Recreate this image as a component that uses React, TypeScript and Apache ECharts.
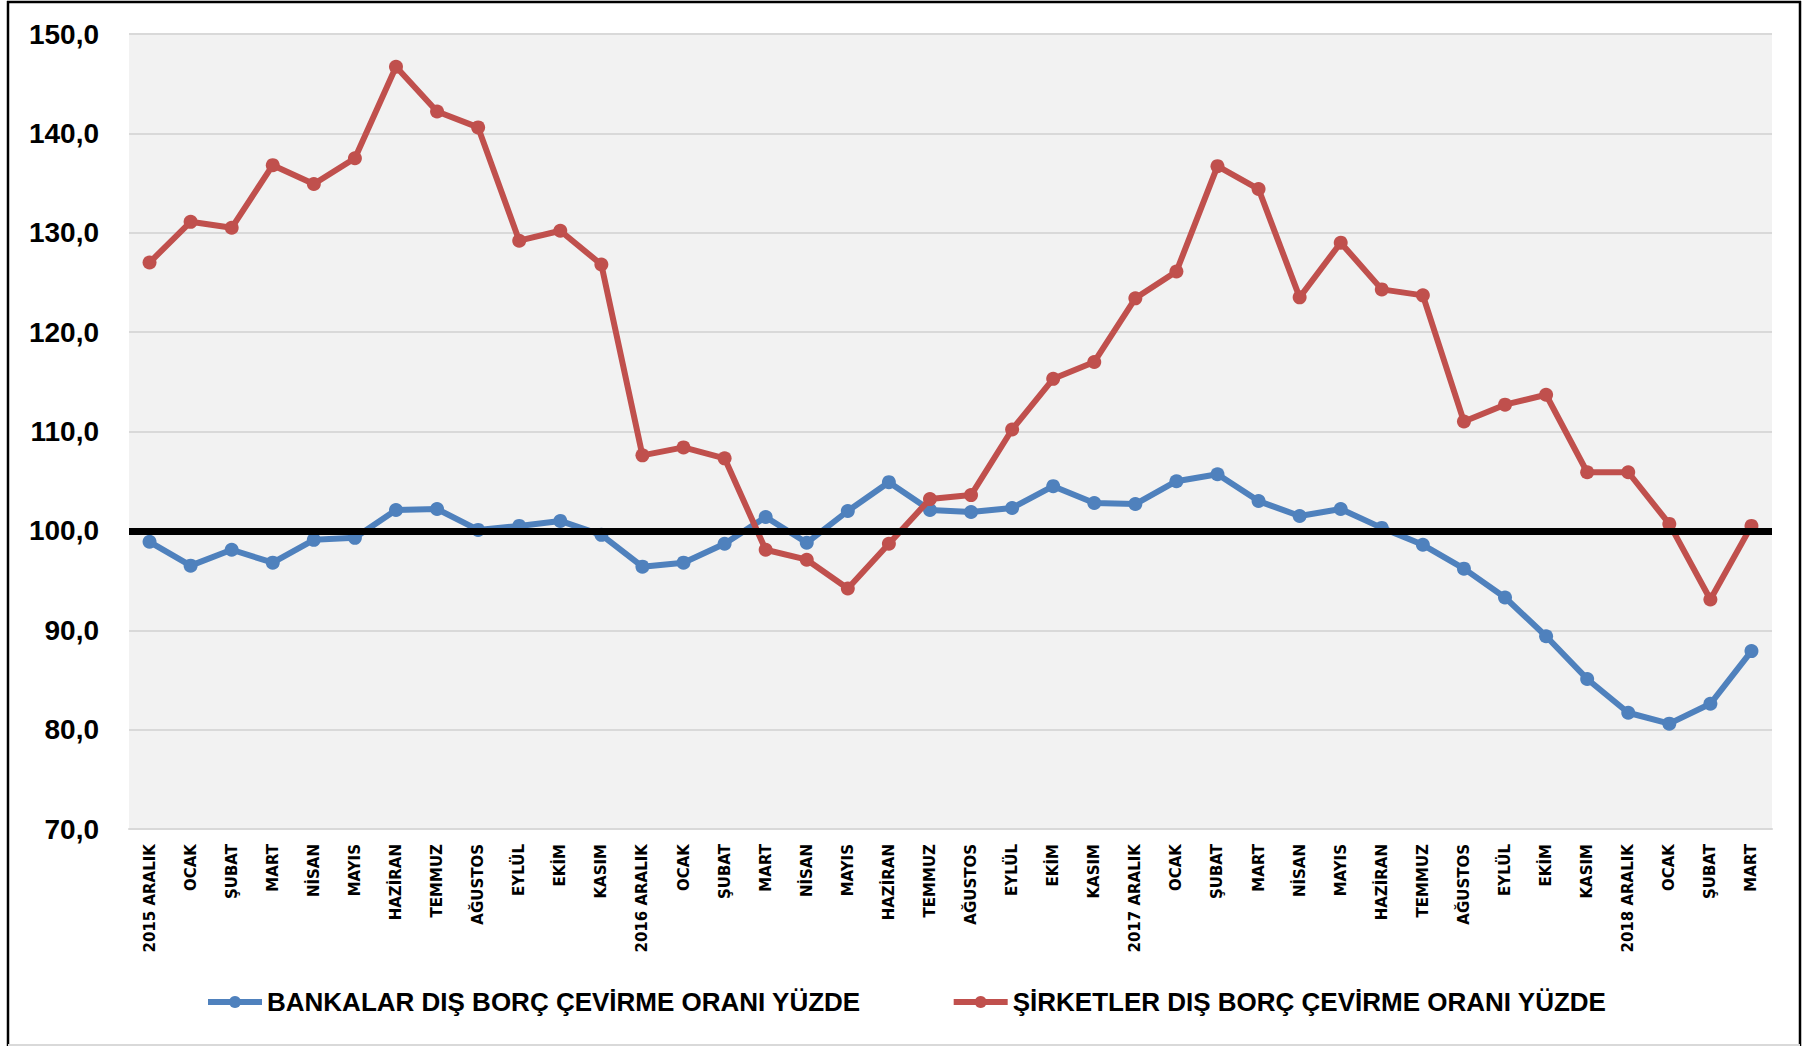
import React, { useEffect, useRef } from "react";
import * as echarts from "echarts";

const categories = [
  "2015 ARALIK", "OCAK", "ŞUBAT", "MART", "NİSAN", "MAYIS", "HAZİRAN", "TEMMUZ", "AĞUSTOS", "EYLÜL", "EKİM", "KASIM",
  "2016 ARALIK", "OCAK", "ŞUBAT", "MART", "NİSAN", "MAYIS", "HAZİRAN", "TEMMUZ", "AĞUSTOS", "EYLÜL", "EKİM", "KASIM",
  "2017 ARALIK", "OCAK", "ŞUBAT", "MART", "NİSAN", "MAYIS", "HAZİRAN", "TEMMUZ", "AĞUSTOS", "EYLÜL", "EKİM", "KASIM",
  "2018 ARALIK", "OCAK", "ŞUBAT", "MART",
];

const bankalar = [
  98.9, 96.5, 98.1, 96.8, 99.1, 99.3, 102.1, 102.2, 100.1, 100.5, 101.0, 99.6,
  96.4, 96.8, 98.7, 101.4, 98.8, 102.0, 104.9, 102.1, 101.9, 102.3, 104.5, 102.8,
  102.7, 105.0, 105.7, 103.0, 101.5, 102.2, 100.3, 98.6, 96.2, 93.3, 89.4, 85.1,
  81.7, 80.6, 82.6, 87.9,
];

const sirketler = [
  127.0, 131.1, 130.5, 136.8, 134.9, 137.5, 146.7, 142.2, 140.6, 129.2, 130.2, 126.8,
  107.6, 108.4, 107.3, 98.1, 97.1, 94.2, 98.7, 103.2, 103.6, 110.2, 115.3, 117.0,
  123.4, 126.1, 136.7, 134.4, 123.5, 129.0, 124.3, 123.7, 111.0, 112.7, 113.7, 105.9,
  105.9, 100.7, 93.1, 100.5,
];

const seriesNames = ["BANKALAR DIŞ BORÇ ÇEVİRME ORANI YÜZDE", "ŞİRKETLER DIŞ BORÇ ÇEVİRME ORANI YÜZDE"];
const referenceLevel = 100;
const yMin = 70;
const yMax = 150;
const yStep = 10;

export default function App() {
  const ref = useRef<HTMLDivElement>(null);
  useEffect(() => {
    if (!ref.current) return;
    const chart = echarts.init(ref.current, undefined, { renderer: "svg" });
    const W = 1808;
    const H = 1046;
    chart.setOption({
      animation: false,
      backgroundColor: "#ffffff",
      grid: {
        left: 129,
        right: W - 1772,
        top: 34,
        bottom: H - 829,
        show: true,
        backgroundColor: "#f2f2f2",
        borderWidth: 0,
        containLabel: false,
        outerBoundsMode: "none",
      },
      legend: {
        left: 205,
        top: 989,
        padding: 0,
        itemGap: 90,
        itemWidth: 54,
        itemHeight: 15,
        lineStyle: { width: 6 },
        textStyle: {
          fontFamily: "Liberation Sans",
          fontWeight: "bold",
          fontSize: 26,
          color: "#000",
        },
        data: seriesNames,
      },
      xAxis: {
        type: "category",
        data: categories,
        boundaryGap: true,
        axisLine: { show: true, lineStyle: { color: "#d9d9d9", width: 2 } },
        axisTick: { show: false },
        axisLabel: {
          interval: 0,
          rotate: 90,
          margin: 15,
          fontFamily: "DejaVu Sans",
          fontWeight: "bold",
          fontSize: 15,
          color: "#000",
        },
      },
      yAxis: {
        type: "value",
        min: yMin,
        max: yMax,
        interval: yStep,
        axisLine: { show: false },
        axisTick: { show: false },
        splitLine: { show: true, lineStyle: { color: "#d9d9d9", width: 2 } },
        axisLabel: {
          margin: 30,
          fontFamily: "Liberation Sans",
          fontWeight: "bold",
          fontSize: 28,
          color: "#000",
          formatter: (v: number) => v.toFixed(1).replace(".", ","),
        },
      },
      series: [
        {
          name: seriesNames[0],
          type: "line",
          data: bankalar,
          symbol: "circle",
          symbolSize: 14,
          showAllSymbol: true,
          lineStyle: { color: "#4f81bd", width: 6 },
          itemStyle: { color: "#4f81bd" },
          z: 2,
        },
        {
          name: seriesNames[1],
          type: "line",
          data: sirketler,
          symbol: "circle",
          symbolSize: 14,
          showAllSymbol: true,
          lineStyle: { color: "#c0504d", width: 6 },
          itemStyle: { color: "#c0504d" },
          z: 3,
          markLine: {
            silent: true,
            symbol: ["none", "none"],
            label: { show: false },
            lineStyle: {
              color: "#000000",
              width: 7,
              type: "solid",
            },
            data: [{ yAxis: referenceLevel }],
          },
        },
      ],
      graphic: [
        { type: "line", shape: { x1: 8, y1: 1, x2: 8, y2: 1046 }, style: { stroke: "#000", lineWidth: 2.5 } },
        { type: "line", shape: { x1: 7, y1: 2, x2: 1801, y2: 2 }, style: { stroke: "#000", lineWidth: 2.5 } },
        { type: "line", shape: { x1: 1800, y1: 1, x2: 1800, y2: 1046 }, style: { stroke: "#000", lineWidth: 2.5 } },
        { type: "line", shape: { x1: 8, y1: 1045, x2: 1800, y2: 1045 }, style: { stroke: "#d9d9d9", lineWidth: 2 } },
      ],
    });
    return () => chart.dispose();
  }, []);
  return <div ref={ref} style={{ position: "fixed", left: 0, top: 0, width: 1808, height: 1046 }} />;
}
